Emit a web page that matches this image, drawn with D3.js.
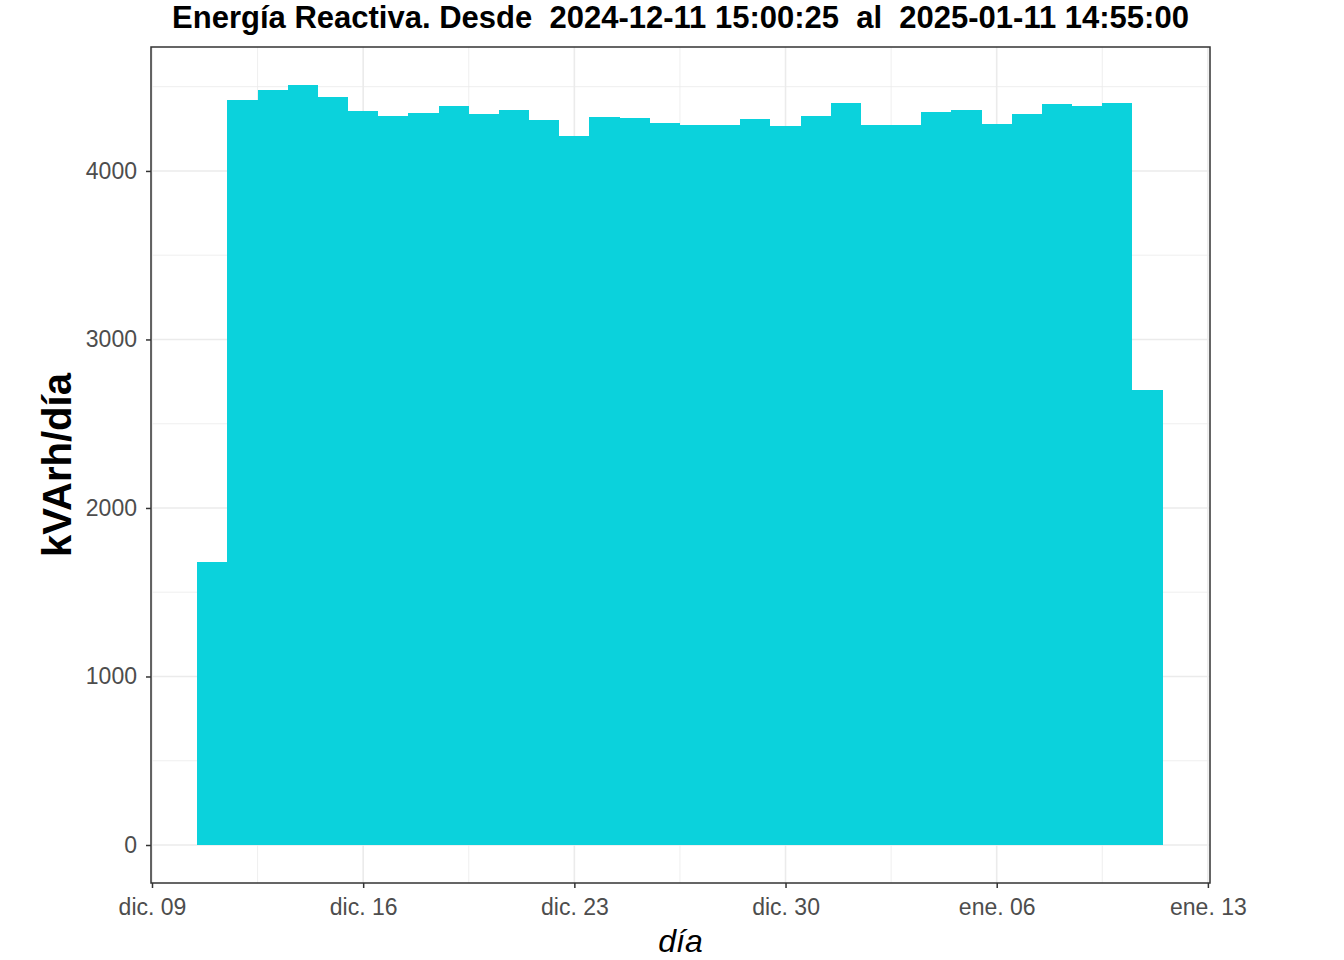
<!DOCTYPE html>
<html lang="es">
<head>
  <meta charset="UTF-8" />
  <title>Energía Reactiva</title>
  <script src="https://d3js.org/d3.v7.min.js"></script>
  <style>
    body { margin: 0; background: #fff; font-family: "Liberation Sans", Arial, sans-serif; }
    .grid-major { stroke: #ebebeb; stroke-width: 1.6px; }
    .grid-minor { stroke: #ebebeb; stroke-width: 0.8px; }
  </style>
</head>
<body>
<svg width="1344" height="960"></svg>
<script>
// one bar per day, 2024-12-11 .. 2025-01-11
const days = [
  "2024-12-11","2024-12-12","2024-12-13","2024-12-14","2024-12-15","2024-12-16",
  "2024-12-17","2024-12-18","2024-12-19","2024-12-20","2024-12-21","2024-12-22",
  "2024-12-23","2024-12-24","2024-12-25","2024-12-26","2024-12-27","2024-12-28",
  "2024-12-29","2024-12-30","2024-12-31","2025-01-01","2025-01-02","2025-01-03",
  "2025-01-04","2025-01-05","2025-01-06","2025-01-07","2025-01-08","2025-01-09",
  "2025-01-10","2025-01-11"
];
const kvarh = [
  1680, 4421, 4481, 4510, 4439, 4356,
  4326, 4344, 4386, 4338, 4362, 4303,
  4208, 4320, 4315, 4285, 4273, 4273,
  4309, 4267, 4326, 4403, 4273, 4273,
  4350, 4362, 4279, 4338, 4397, 4386,
  4403, 2700
];
const xBreaks = ["2024-12-09","2024-12-16","2024-12-23","2024-12-30","2025-01-06","2025-01-13"];
const yBreaks = [0, 1000, 2000, 3000, 4000];
const months = ["ene.","feb.","mar.","abr.","may.","jun.","jul.","ago.","sept.","oct.","nov.","dic."];

const titleText = "Energía Reactiva. Desde  2024-12-11 15:00:25  al  2025-01-11 14:55:00";

const svg = d3.select("svg");
const panel = { left: 151, right: 1210, top: 47, bottom: 883 };
const DAY = 864e5;
const parse = d3.utcParse("%Y-%m-%d");

const data = days.map((d, i) => ({ date: parse(d), value: kvarh[i] }));

const x = d3.scaleUtc()
  .domain([new Date(parse("2024-12-09").getTime() - 0.033 * DAY),
           new Date(parse("2025-01-13").getTime() + 0.07 * DAY)])
  .range([panel.left, panel.right]);

const yMax = d3.max(kvarh);
const y = d3.scaleLinear()
  .domain([-0.05 * yMax, yMax * 1.05])
  .range([panel.bottom, panel.top]);

const fmt = d => months[d.getUTCMonth()] + " " + d3.utcFormat("%d")(d);

const xMaj = xBreaks.map(parse);
const xMin = d3.pairs(xMaj).map(([a, b]) => new Date((a.getTime() + b.getTime()) / 2));
const yMin = d3.pairs(yBreaks).map(([a, b]) => (a + b) / 2).concat([4500]);

// grid
const grid = svg.append("g");
grid.selectAll(".ymin").data(yMin).join("line")
  .attr("class", "grid-minor")
  .attr("x1", panel.left).attr("x2", panel.right)
  .attr("y1", d => y(d)).attr("y2", d => y(d));
grid.selectAll(".xmin").data(xMin).join("line")
  .attr("class", "grid-minor")
  .attr("y1", panel.top).attr("y2", panel.bottom)
  .attr("x1", d => x(d)).attr("x2", d => x(d));
grid.selectAll(".ymaj").data(yBreaks).join("line")
  .attr("class", "grid-major")
  .attr("x1", panel.left).attr("x2", panel.right)
  .attr("y1", d => y(d)).attr("y2", d => y(d));
grid.selectAll(".xmaj").data(xMaj).join("line")
  .attr("class", "grid-major")
  .attr("y1", panel.top).attr("y2", panel.bottom)
  .attr("x1", d => x(d)).attr("x2", d => x(d));

// bars
svg.append("g")
  .selectAll("rect")
  .data(data)
  .join("rect")
  .attr("x", d => x(new Date(d.date.getTime() - DAY / 2)))
  .attr("width", d => x(new Date(d.date.getTime() + DAY / 2)) - x(new Date(d.date.getTime() - DAY / 2)))
  .attr("y", d => y(d.value))
  .attr("height", d => y(0) - y(d.value))
  .attr("fill", "#0bd2dc")
  .attr("shape-rendering", "crispEdges");

// panel border
svg.append("rect")
  .attr("x", panel.left).attr("y", panel.top)
  .attr("width", panel.right - panel.left).attr("height", panel.bottom - panel.top)
  .attr("fill", "none").attr("stroke", "#333").attr("stroke-width", 1.5);

// axes
const xAxis = svg.append("g").attr("transform", `translate(0,${panel.bottom})`)
  .call(d3.axisBottom(x).tickValues(xMaj).tickFormat(fmt).tickSize(5).tickPadding(11));
const yAxis = svg.append("g").attr("transform", `translate(${panel.left},0)`)
  .call(d3.axisLeft(y).tickValues(yBreaks).tickFormat(d3.format("d")).tickSize(5).tickPadding(9));
[xAxis, yAxis].forEach(g => {
  g.attr("font-size", 23).attr("font-family", "Liberation Sans, Arial, sans-serif");
  g.select(".domain").remove();
  g.selectAll(".tick line").attr("stroke", "#333").attr("stroke-width", 1.5);
  g.selectAll(".tick text").attr("fill", "#4d4d4d");
});

// titles
svg.append("text")
  .attr("x", (panel.left + panel.right) / 2).attr("y", 28)
  .attr("text-anchor", "middle")
  .attr("font-size", 31).attr("font-weight", "bold")
  .style("white-space", "pre")
  .text(titleText);

svg.append("text")
  .attr("x", (panel.left + panel.right) / 2).attr("y", 952)
  .attr("text-anchor", "middle")
  .attr("font-size", 32).attr("font-style", "italic")
  .text("día");

svg.append("text")
  .attr("transform", `translate(71,${(panel.top + panel.bottom) / 2}) rotate(-90)`)
  .attr("text-anchor", "middle")
  .attr("font-size", 40).attr("font-weight", "bold")
  .text("kVArh/día");
</script>
</body>
</html>
